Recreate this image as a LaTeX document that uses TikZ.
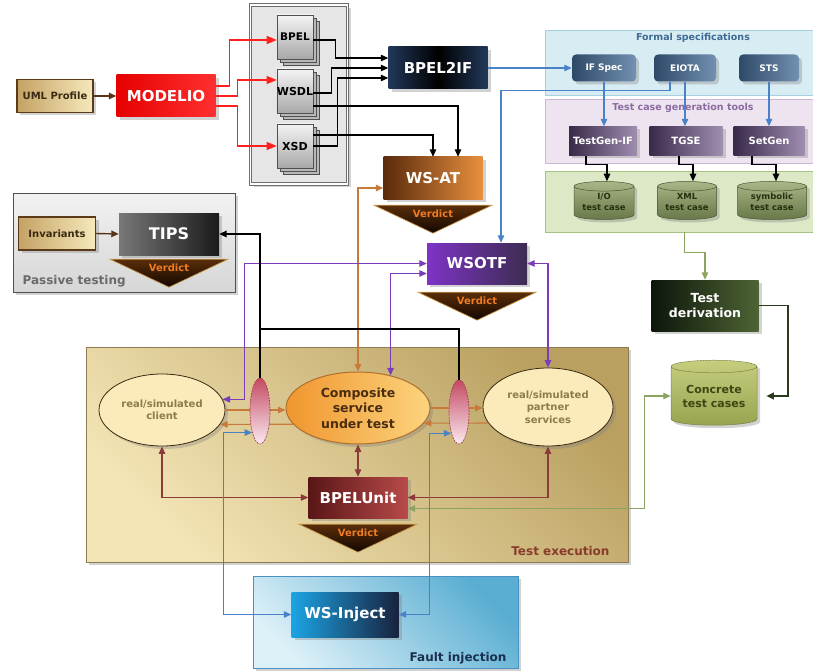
\documentclass[tikz,border=0pt]{standalone}
\usepackage{fontspec}
\setmainfont{DejaVu Sans}
\usetikzlibrary{arrows.meta,shapes.geometric,shadows,calc}
\newcommand\myfs[1]{\fontsize{#1}{#1}\selectfont}
\newcommand\myfsl[2]{\fontsize{#1}{#2}\selectfont}
\newcommand\cyltxt[2]{\raisebox{-3pt}{\begin{tabular}{@{}c@{}}#1\\#2\end{tabular}}}
\definecolor{tanA}{HTML}{C4A264}\definecolor{tanB}{HTML}{F6E9BC}
\definecolor{tanDraw}{HTML}{5A3A18}\definecolor{tanText}{HTML}{3A2A12}
\definecolor{modA}{HTML}{E60000}\definecolor{modB}{HTML}{FF3030}
\definecolor{docA}{HTML}{F4F4F4}\definecolor{docB}{HTML}{A8A8A8}
\definecolor{docC}{HTML}{B8B8B8}\definecolor{docDraw}{HTML}{505050}
\definecolor{frameFill}{HTML}{E6E6E6}\definecolor{frameDraw}{HTML}{6E6E6E}
\definecolor{navyA}{HTML}{22385A}\definecolor{navyB}{HTML}{0A1626}
\definecolor{wsatA}{HTML}{5A2A0C}\definecolor{wsatB}{HTML}{E8903E}
\definecolor{tipsA}{HTML}{787878}\definecolor{tipsB}{HTML}{1A1A1A}
\definecolor{wsotfA}{HTML}{7E34C4}\definecolor{wsotfB}{HTML}{3C2C52}
\definecolor{verdA}{HTML}{5A2E0A}\definecolor{verdB}{HTML}{120600}
\definecolor{verdEdge}{HTML}{C89848}\definecolor{verdText}{HTML}{F07A22}
\definecolor{specA}{HTML}{2E4A68}\definecolor{specB}{HTML}{7290B0}
\definecolor{toolA}{HTML}{3A2A4A}\definecolor{toolB}{HTML}{A08EB0}
\definecolor{formalFill}{HTML}{D8ECF4}\definecolor{formalDraw}{HTML}{A8CFE0}
\definecolor{formalText}{HTML}{3E6A94}
\definecolor{tcgFill}{HTML}{EEE4F0}\definecolor{tcgDraw}{HTML}{CDB6D6}
\definecolor{tcgText}{HTML}{8A6CA0}
\definecolor{tcFill}{HTML}{DCE8C6}\definecolor{tcDraw}{HTML}{A9C17E}
\definecolor{cylA}{HTML}{AAB688}\definecolor{cylB}{HTML}{687848}
\definecolor{cylDraw}{HTML}{4A5430}\definecolor{cylText}{HTML}{28300F}
\definecolor{derA}{HTML}{0C160A}\definecolor{derB}{HTML}{4E6434}
\definecolor{concA}{HTML}{C6CE7E}\definecolor{concB}{HTML}{98A450}
\definecolor{concText}{HTML}{3E4614}
\definecolor{passA}{HTML}{F2F2F2}\definecolor{passB}{HTML}{D6D6D6}
\definecolor{passDraw}{HTML}{505050}\definecolor{passText}{HTML}{6A6A6A}
\definecolor{execA}{HTML}{F4E5B6}\definecolor{execB}{HTML}{B9A060}
\definecolor{execDraw}{HTML}{8C7C50}\definecolor{execText}{HTML}{8A3C2C}
\definecolor{ellFill}{HTML}{FBEBBB}\definecolor{ellDraw}{HTML}{3A2A10}
\definecolor{ellText}{HTML}{8C7C4C}
\definecolor{compA}{HTML}{F0962E}\definecolor{compB}{HTML}{FCD47E}
\definecolor{compDraw}{HTML}{B0702C}\definecolor{compText}{HTML}{4A2C10}
\definecolor{lensA}{HTML}{C44A62}\definecolor{lensB}{HTML}{FAEAF0}
\definecolor{lensDraw}{HTML}{A03848}
\definecolor{unitA}{HTML}{5A1616}\definecolor{unitB}{HTML}{B84A4A}
\definecolor{faultA}{HTML}{DCF0F8}\definecolor{faultB}{HTML}{5AAED2}
\definecolor{faultDraw}{HTML}{4A90C0}\definecolor{faultText}{HTML}{1A3050}
\definecolor{injA}{HTML}{1CA4E4}\definecolor{injB}{HTML}{18223E}
\definecolor{redL}{HTML}{FF2020}\definecolor{blueL}{HTML}{4A82C8}
\definecolor{purpL}{HTML}{7A3CB8}\definecolor{orL}{HTML}{C87A3A}
\definecolor{marL}{HTML}{8C3A3A}\definecolor{grL}{HTML}{8CA462}
\definecolor{dgrL}{HTML}{2A3A1A}\definecolor{brL}{HTML}{5A3418}
\tikzset{
  shd/.style={drop shadow={shadow xshift=3pt,shadow yshift=-3pt,opacity=0.35}},
  box/.style={rectangle,inner sep=0pt,align=center,text=white,font=\bfseries\myfs{15},shd},
  tanbox/.style={rectangle,inner sep=0pt,align=center,text=tanText,font=\bfseries\myfs{10},left color=tanA,right color=tanB,draw=tanDraw,line width=1.4pt,shd},
  docbox/.style={rectangle,inner sep=0pt,minimum width=36,minimum height=44,font=\bfseries\myfs{10.5},text=black,draw=docDraw,line width=0.6pt,top color=docA,bottom color=docB,double copy shadow={shadow xshift=3pt,shadow yshift=-3pt,fill=docC,draw=docDraw}},
  specbox/.style={rectangle,rounded corners=4pt,inner sep=0pt,minimum width=#1,minimum height=27,text=white,font=\bfseries\myfs{9},left color=specA,right color=specB,shd},
  toolbox/.style={rectangle,inner sep=0pt,minimum width=#1,minimum height=29,text=white,font=\bfseries\myfs{10},left color=toolA,right color=toolB,shd},
  tccyl/.style={cylinder,shape border rotate=90,aspect=0.22,inner sep=0pt,minimum width=#1,minimum height=38,top color=cylA,bottom color=cylB,draw=cylDraw,line width=0.5pt,text=cylText,font=\bfseries\myfsl{8.5}{10},shd},
  panel/.style={rectangle,inner sep=0pt,line width=0.8pt},
  ell/.style={ellipse,inner sep=0pt,align=center,shd},
  lens/.style={ellipse,inner sep=0pt,minimum width=20,top color=lensA,bottom color=lensB,draw=lensDraw,dash pattern=on 2pt off 1pt,line width=0.6pt},
  verdictshape/.style={top color=verdA,bottom color=verdB,draw=verdEdge,line width=0.7pt},
  verdicttext/.style={text=verdText,font=\bfseries\myfs{10},inner sep=0pt},
  conn/.style={line width=1.1pt},
  rl/.style={conn,draw=redL,-{Triangle[length=10pt,width=8pt]}},
  kl/.style={conn,draw=black,->},
  kl2/.style={line width=1.8pt,draw=black},
  bl/.style={conn,draw=blueL,->},
  pl/.style={conn,draw=purpL},
  ol/.style={conn,draw=orL},
  ml/.style={conn,draw=marL},
  gl/.style={line width=1.4pt,draw=grL},
  dgl/.style={line width=1.8pt,draw=dgrL,->},
  brl/.style={line width=1.4pt,draw=brL,->},
}
\newcommand\verdict[3]{%
  \coordinate (#2top) at ($(#1.south)+(0,-#3)$);
  \shadedraw[verdictshape] ($(#2top)+(-59,0)$) -- ($(#2top)+(59,0)$) -- ($(#2top)+(0,-28)$) -- cycle;
  \node[verdicttext] (#2) at ($(#2top)+(0,-8.5)$) {Verdict};
}
\begin{document}
\begin{tikzpicture}[x=1pt,y=1pt,>={Triangle[length=7.5pt,width=6.5pt]}]
\useasboundingbox (0,0) rectangle (813,-671);
\fill[white] (0,0) rectangle (813,-671);

% ---------- panels ----------
\node[panel,minimum width=271,minimum height=65,fill=formalFill,draw=formalDraw] (formal) at (680.5,-62.5) {};
\node[panel,minimum width=271,minimum height=64,fill=tcgFill,draw=tcgDraw] (tcg) at (680.5,-131) {};
\node[panel,minimum width=271,minimum height=61,fill=tcFill,draw=tcDraw] (tcpanel) at (680.5,-201.5) {};
\node[text=formalText,font=\bfseries\myfs{9.5}] (formaltitle) at (693,-38) {Formal specifications};
\node[text=tcgText,font=\bfseries\myfs{9.5}] (tcgtitle) at (683,-108) {Test case generation tools};

\node[panel,minimum width=97,minimum height=179,fill=frameFill,draw=frameDraw,line width=1.3pt,double=white,double distance=1.2pt,shd] (frame) at (299,-94.5) {};

\node[panel,minimum width=222,minimum height=99,top color=passA,bottom color=passB,draw=passDraw,line width=1pt,shd] (passive) at (124,-242.5) {};
\node[anchor=west,text=passText,font=\bfseries\myfs{12}] (passivelabel) at (19,-281) {Passive testing};

\node[panel,minimum width=542,minimum height=215,top color=execB,bottom color=execA,shading angle=-45,draw=execDraw,line width=1pt,shd] (exec) at (357,-454.5) {};
\node[anchor=east,text=execText,font=\bfseries\myfs{12}] (execlabel) at (613,-551) {Test execution};

\node[panel,minimum width=265,minimum height=92,top color=faultB,bottom color=faultA,shading angle=-45,draw=faultDraw,line width=1pt,shd] (fault) at (385.5,-622) {};
\node[anchor=east,text=faultText,font=\bfseries\myfs{12}] (faultlabel) at (510,-658) {Fault injection};

% ---------- nodes ----------
\node[tanbox,minimum width=76,minimum height=33] (uml) at (55,-96) {UML Profile};
\node[box,minimum width=99,minimum height=42,left color=modA,right color=modB] (modelio) at (166,-96) {MODELIO};
\node[docbox] (bpel) at (295,-37) {BPEL};
\node[docbox,font=\bfseries\myfs{11}] (wsdl) at (295,-91) {WSDL};
\node[docbox,font=\bfseries\myfs{11}] (xsd) at (295,-146) {XSD};
\node[box,minimum width=99,minimum height=42,left color=navyA,right color=navyA,middle color=black] (bpel2if) at (438,-68) {BPEL2IF};
\node[box,minimum width=99,minimum height=42,left color=wsatA,right color=wsatB] (wsat) at (433,-178) {WS-AT};

\node[specbox=64] (ifspec) at (604,-68) {IF Spec};
\node[specbox=62] (eiota) at (685,-68) {EIOTA};
\node[specbox=60] (sts) at (769,-68) {STS};
\node[toolbox=68] (testgenif) at (603,-141) {TestGen-IF};
\node[toolbox=73] (tgse) at (686,-141) {TGSE};
\node[toolbox=71] (setgen) at (769,-141) {SetGen};
\node[tccyl=60] (io) at (604,-203) {\cyltxt{I/O}{test case}};
\node[tccyl=59] (xml) at (687,-203) {\cyltxt{XML}{test case}};
\node[tccyl=69] (sym) at (772,-203) {\cyltxt{symbolic}{test case}};

\node[box,minimum width=107,minimum height=51,left color=derA,right color=derB,font=\bfseries\myfsl{12.5}{15}] (testder) at (705,-305.5) {Test\\derivation};
\node[cylinder,shape border rotate=90,aspect=0.2,inner sep=0pt,minimum width=86,minimum height=65,top color=concA,bottom color=concB,draw=concB!70!black,dash pattern=on 1pt off 0.5pt,line width=0.5pt,align=center,text=concText,font=\bfseries\myfsl{11}{14},shd] (concrete) at (714,-396) {Concrete\\test cases};

\node[tanbox,minimum width=77,minimum height=33] (invariants) at (57,-233.5) {Invariants};
\node[box,minimum width=100,minimum height=42,left color=tipsA,right color=tipsB,font=\bfseries\myfs{16}] (tips) at (169,-234) {TIPS};
\node[box,minimum width=100,minimum height=41,left color=wsotfA,right color=wsotfB] (wsotf) at (477,-263.5) {WSOTF};

\node[ell,minimum width=126,minimum height=72,fill=ellFill,draw=ellDraw,line width=0.8pt,text=ellText,font=\bfseries\myfsl{10}{12.5}] (client) at (162,-410) {real/simulated\\client};
\node[ell,minimum width=144,minimum height=72,left color=compA,right color=compB,draw=compDraw,line width=1pt,text=compText,font=\bfseries\myfsl{12.5}{15.5}] (composite) at (358,-408) {Composite\\service\\under test};
\node[ell,minimum width=130,minimum height=78,fill=ellFill,draw=ellDraw,line width=0.8pt,text=ellText,font=\bfseries\myfsl{10}{12.5}] (partner) at (548,-407) {real/simulated\\partner\\services};
\node[box,minimum width=99,minimum height=41,left color=unitA,right color=unitB] (bpelunit) at (358,-497.5) {BPELUnit};
\node[box,minimum width=107,minimum height=45,left color=injA,right color=injB] (wsinject) at (345,-614.5) {WS-Inject};

\verdict{wsat}{wsatv}{6}
\verdict{tips}{tipsv}{4}
\verdict{wsotf}{wsotfv}{8}
\verdict{bpelunit}{bpelunitv}{6}

% ---------- connectors ----------
\draw[brl] (uml.east) -- (modelio.west);
\draw[brl] (invariants.east) -- (tips.west);

\draw[rl] ([yshift=10]modelio.east) -| ([xshift=-47,yshift=-3]bpel.west) -- ([yshift=-3]bpel.west);
\draw[rl] (modelio.east) -| ([xshift=-39,yshift=11]wsdl.west) -- ([yshift=11]wsdl.west);
\draw[rl] ([yshift=-10]modelio.east) -| ([xshift=-39]xsd.west) -- (xsd.west);

\draw[kl] ([yshift=-3]bpel.east) -| ([xshift=-53,yshift=10]bpel2if.west) -- ([yshift=10]bpel2if.west);
\draw[kl] ([yshift=-2]wsdl.east) -| ([xshift=-57]bpel2if.west) -- (bpel2if.west);
\draw[kl] (xsd.east) -| ([xshift=-51,yshift=-10]bpel2if.west) -- ([yshift=-10]bpel2if.west);
\draw[kl] ([yshift=-15]wsdl.east) -| ([xshift=25]wsat.north);
\draw[kl] ([yshift=11]xsd.east) -| (wsat.north);

\draw[bl] (bpel2if.east) -- (ifspec.west);
\draw[bl] ([xshift=-15]eiota.south) -- ++(0,-9) -| ([xshift=24]wsotf.north);
\draw[bl] (ifspec.south) -- (ifspec.south |- testgenif.north);
\draw[bl] (eiota.south) -- (eiota.south |- tgse.north);
\draw[bl] (sts.south) -- (sts.south |- setgen.north);

\draw[kl] ([xshift=-17]testgenif.south) -- ++(0,-9) -| ([xshift=3]io.north);
\draw[kl] ([xshift=-7]tgse.south) -- ++(0,-9) -| ([xshift=6]xml.north);
\draw[kl] ([xshift=-17]setgen.south) -- ++(0,-9) -| ([xshift=4]sym.north);

\draw[gl,->] ([xshift=4]tcpanel.south) -- ++(0,-20) -| (testder.north);
\draw[dgl] (testder.east) -| ([xshift=31]concrete.east) -- ([xshift=9]concrete.east);
\draw[gl,<->] ([yshift=-11]bpelunit.east) -| ([xshift=-26]concrete.west) -- (concrete.west);

\draw[ml,<->] (composite.south) -- (bpelunit.north);
\draw[ml,<->] (client.south) |- (bpelunit.west);
\draw[ml,<->] (partner.south) |- (bpelunit.east);

\draw[ol,<->] (composite.north) |- ([yshift=-10]wsat.west);
\draw[ol,->] (client.east) -- (client.east -| composite.west);
\draw[ol,->] (composite.194) -- (client.346);
\draw[ol,->] (composite.east) -- (composite.east -| partner.west);
\draw[ol,->] (partner.195) -- (composite.347);

\draw[pl,<->] (client.10) -- ++(22,0) |- (wsotf.west);
\draw[pl,<->] (composite.45) |- ([yshift=-10]wsotf.west);
\draw[pl,<->] (wsotf.east) -| (partner.north);

% lenses (over the message lines)
\node[lens,minimum height=66] (lensL) at (260,-411) {};
\node[lens,minimum height=64] (lensR) at (459,-412) {};

\draw[kl2,->] (lensL.north) |- (tips.east);
\draw[kl2] (lensR.north) |- ($(lensL.north)+(0,49)$);

\draw[bl,<->] (lensL.250) -| ([xshift=-68]wsinject.west) -- (wsinject.west);
\draw[bl,<->] (lensR.250) -| ([xshift=31]wsinject.east) -- (wsinject.east);
\end{tikzpicture}
\end{document}
